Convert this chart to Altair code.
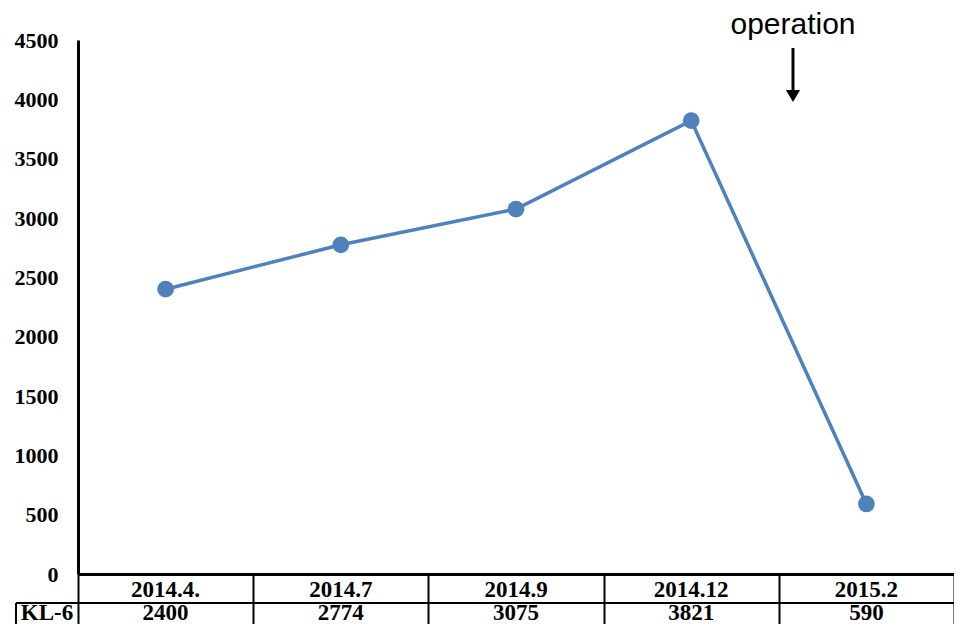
import altair as alt
import pandas as pd

dates = ["2014.4.", "2014.7", "2014.9", "2014.12", "2015.2"]
kl6 = [2400, 2774, 3075, 3821, 590]
row_label = ["KL-6"]
annotation = ["operation"]
y_ticks = [0, 500, 1000, 1500, 2000, 2500, 3000, 3500, 4000, 4500]

df = pd.DataFrame({"date": dates, "value": kl6})
ann_df = pd.DataFrame({"t": annotation})
lab_df = pd.DataFrame({"t": row_label})

W, H = 876, 534
ROW1 = 29
TABLE_H = 50
BLUE = "#4F81BD"
SERIF = "Liberation Serif"

x_enc = alt.X(
    "date:N",
    sort=dates,
    bandPosition=0.5,
    scale=alt.Scale(type="band", paddingInner=0, paddingOuter=0),
    axis=alt.Axis(
        title=None, labels=False, ticks=True, tickBand="extent",
        tickSize=TABLE_H, tickWidth=2, tickColor="black",
        domainColor="black", domainWidth=3, grid=False,
    ),
)
y_enc = alt.Y(
    "value:Q",
    scale=alt.Scale(domain=[0, 4500], nice=False),
    axis=alt.Axis(
        title=None, values=y_ticks, format="d", ticks=False, grid=False,
        domainColor="black", domainWidth=3,
        labelFont=SERIF, labelFontWeight="bold", labelFontSize=22,
        labelColor="black", labelPadding=20,
    ),
)

base = alt.Chart(df)

line = base.mark_line(color=BLUE, strokeWidth=3.5).encode(x=x_enc, y=y_enc)
points = base.mark_point(filled=True, size=280, color=BLUE, opacity=1).encode(x=x_enc, y=y_enc)

row1 = base.mark_text(font=SERIF, fontWeight="bold", fontSize=23, baseline="middle",
                      color="black").encode(
    x=x_enc, y=alt.value(H + ROW1 / 2 + 1), text="date:N")
row2 = base.mark_text(font=SERIF, fontWeight="bold", fontSize=23, baseline="middle",
                      color="black").encode(
    x=x_enc, y=alt.value(H + ROW1 + 10), text=alt.Text("value:Q", format="d"))

hline = alt.Chart(lab_df).mark_rule(color="black", strokeWidth=2).encode(
    x=alt.value(-62), x2=alt.value(W), y=alt.value(H + ROW1))
vline = alt.Chart(lab_df).mark_rule(color="black", strokeWidth=2).encode(
    x=alt.value(-62), y=alt.value(H + ROW1), y2=alt.value(H + TABLE_H))
lab = alt.Chart(lab_df).mark_text(font=SERIF, fontWeight="bold", fontSize=23,
                                  baseline="middle", align="center", color="black").encode(
    x=alt.value(-31), y=alt.value(H + ROW1 + 10), text="t:N")

ann_text = alt.Chart(ann_df).mark_text(font="Liberation Sans", fontSize=30,
                                       baseline="alphabetic", align="center",
                                       color="black").encode(
    x=alt.value(715), y=alt.value(-6), text="t:N")
arrow_shaft = alt.Chart(ann_df).mark_rule(color="black", strokeWidth=3).encode(
    x=alt.value(715), y=alt.value(8), y2=alt.value(51))
arrow_head = alt.Chart(ann_df).mark_point(shape="triangle-down", filled=True, size=200,
                                          color="black", opacity=1).encode(
    x=alt.value(715), y=alt.value(56))

chart = alt.layer(
    line, points, row1, row2, hline, vline, lab, ann_text, arrow_shaft, arrow_head
).properties(
    width=W, height=H,
    padding={"left": 70, "top": 32, "right": 0, "bottom": TABLE_H},
    autosize=alt.AutoSizeParams(type="none"),
    background="white",
).configure_view(stroke="transparent", strokeWidth=0)

chart.save("out.html", embed_options={"renderer": "svg", "actions": False})
